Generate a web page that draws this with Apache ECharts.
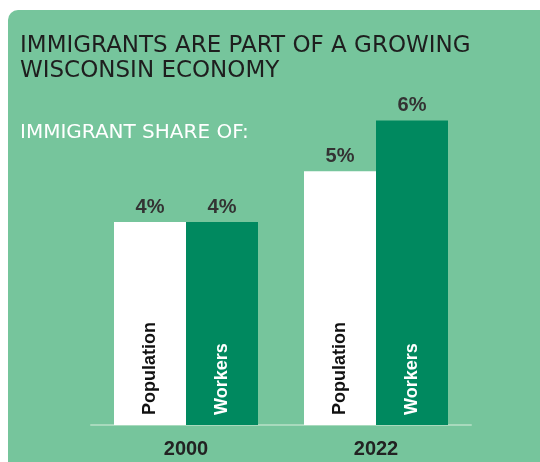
<!DOCTYPE html>
<html>
<head>
<meta charset="utf-8">
<script src="https://cdn.jsdelivr.net/npm/echarts@6/dist/echarts.min.js"></script>
<style>
html,body{margin:0;padding:0;background:#fff;}
#c{width:540px;height:462px;}
</style>
</head>
<body>
<div id="c"></div>
<script>
const categories = ['2000', '2022'];
const seriesNames = ['Population', 'Workers'];
const populationShare = [4, 5];
const workersShare = [4, 6];
const titleText = 'IMMIGRANTS ARE PART OF A GROWING\nWISCONSIN ECONOMY';
const subtitleText = 'IMMIGRANT SHARE OF:';

const chart = echarts.init(document.getElementById('c'));

function valueLabel(values) {
  return {
    show: true,
    position: 'top',
    distance: 5,
    formatter: p => values[p.dataIndex] + '%',
    fontFamily: 'Liberation Sans',
    fontWeight: 'bold',
    fontSize: 20,
    color: '#333333'
  };
}
function innerLabel(color) {
  return {
    show: true,
    position: 'insideBottom',
    rotate: 90,
    align: 'left',
    verticalAlign: 'middle',
    distance: 10,
    formatter: '{a}',
    fontFamily: 'Liberation Sans',
    fontWeight: 'bold',
    fontSize: 18,
    color: color
  };
}
const common = { type: 'bar', barWidth: 72, barGap: '0%' };

chart.setOption({
  animation: false,
  backgroundColor: '#ffffff',
  graphic: [{
    type: 'rect',
    z: -10,
    silent: true,
    shape: { x: 8, y: 10, width: 560, height: 480, r: 10 },
    style: { fill: '#76c59c' }
  }],
  title: [{
    text: titleText,
    left: 20,
    top: 34,
    padding: 0,
    textStyle: {
      fontFamily: 'DejaVu Sans',
      fontWeight: 'normal',
      fontSize: 23,
      lineHeight: 25,
      color: '#1e1e1e'
    }
  }, {
    text: subtitleText,
    left: 20,
    top: 123,
    padding: 0,
    textStyle: {
      fontFamily: 'DejaVu Sans',
      fontWeight: 'normal',
      fontSize: 20,
      color: '#ffffff'
    }
  }],
  grid: { left: 91, right: 69, top: 120.5, bottom: 37, containLabel: false },
  xAxis: {
    type: 'category',
    data: categories,
    axisLine: { show: true, lineStyle: { color: '#a8dabd', width: 2 } },
    axisTick: { show: false },
    axisLabel: {
      margin: 14,
      fontFamily: 'Liberation Sans',
      fontWeight: 'bold',
      fontSize: 20,
      color: '#222222'
    }
  },
  yAxis: {
    type: 'value',
    min: 0,
    max: 6,
    show: false,
    splitLine: { show: false }
  },
  series: [
    Object.assign({}, common, {
      name: seriesNames[0],
      stack: 'pop',
      data: populationShare,
      itemStyle: { color: '#ffffff' },
      label: innerLabel('#111111')
    }),
    Object.assign({}, common, {
      name: seriesNames[0] + ' value',
      stack: 'pop',
      data: populationShare.map(() => 0),
      itemStyle: { color: 'rgba(0,0,0,0)' },
      label: valueLabel(populationShare),
      silent: true
    }),
    Object.assign({}, common, {
      name: seriesNames[1],
      stack: 'work',
      data: workersShare,
      itemStyle: { color: '#00895f' },
      label: innerLabel('#ffffff')
    }),
    Object.assign({}, common, {
      name: seriesNames[1] + ' value',
      stack: 'work',
      data: workersShare.map(() => 0),
      itemStyle: { color: 'rgba(0,0,0,0)' },
      label: valueLabel(workersShare),
      silent: true
    })
  ]
});
</script>
</body>
</html>
